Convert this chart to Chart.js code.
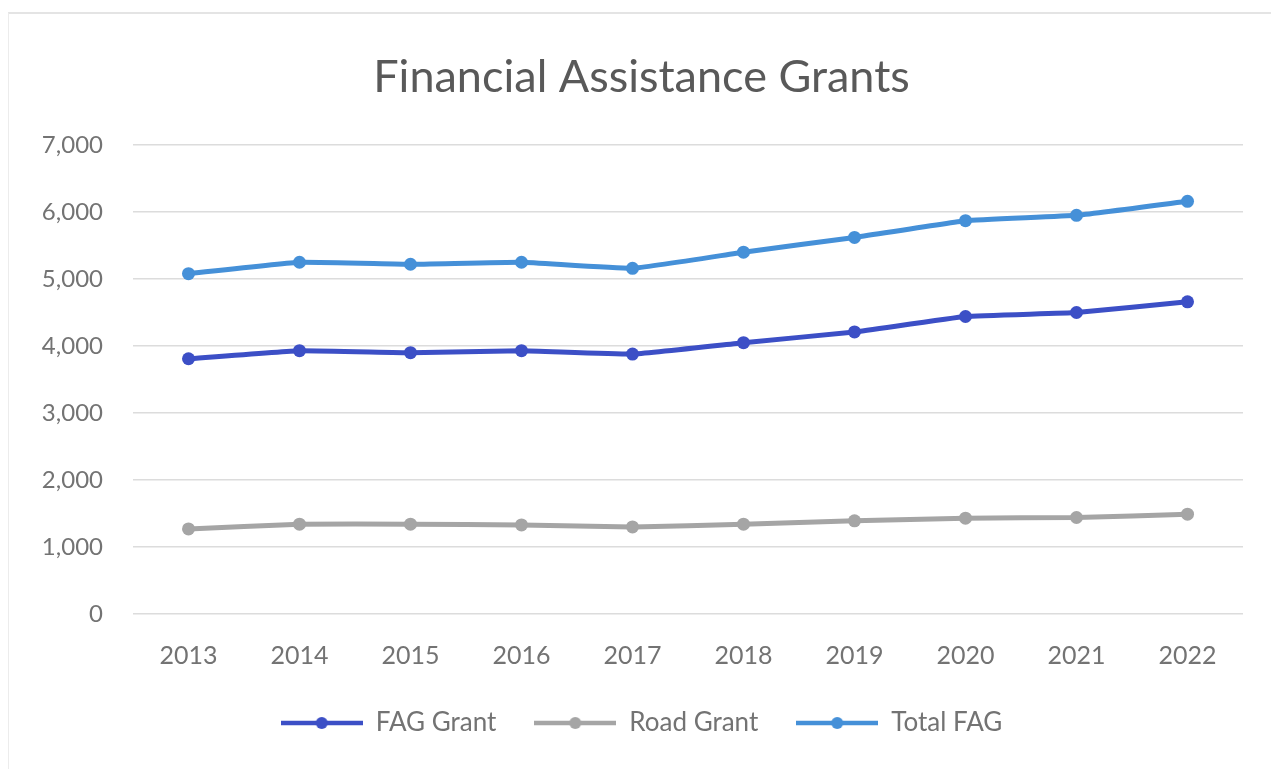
<!DOCTYPE html>
<html>
<head>
<meta charset="utf-8">
<script src="https://cdn.jsdelivr.net/npm/chart.js@4.4.1/dist/chart.umd.min.js"></script>
<style>
  body { margin: 0; background: #fff; }
  #frame { position: absolute; left: 8px; top: 12px; width: 1262px; height: 756px; border-top: 2px solid #e4e4e4; border-left: 1px solid #ececec; }
  #wrap { position: absolute; left: 0; top: 0; width: 1271px; height: 769px; }
</style>
</head>
<body>
<div id="frame"></div>
<div id="wrap"><canvas id="grantChart" width="1271" height="769"></canvas></div>
<script>
// values ($ thousands)
const years = ["2013", "2014", "2015", "2016", "2017", "2018", "2019", "2020", "2021", "2022"];
const fagGrant = [3810, 3930, 3900, 3930, 3880, 4050, 4210, 4440, 4500, 4660];
const roadGrant = [1270, 1340, 1340, 1330, 1300, 1340, 1390, 1430, 1440, 1490];
const totalFag = [5080, 5250, 5220, 5250, 5160, 5400, 5620, 5870, 5950, 6160];
const yTicks = [0, 1000, 2000, 3000, 4000, 5000, 6000, 7000];

const fagColor = "#3c4fc6";
const roadColor = "#a5a5a5";
const totalColor = "#4590d8";
const textColor = "#737373";

// little line + marker picture for the legend
function legendMark(color) {
  const c = document.createElement("canvas");
  c.width = 82; c.height = 16;
  const g = c.getContext("2d");
  g.strokeStyle = color;
  g.lineWidth = 4.5;
  g.beginPath(); g.moveTo(0, 8); g.lineTo(82, 8); g.stroke();
  g.fillStyle = color;
  g.beginPath(); g.arc(41, 8, 6, 0, Math.PI * 2); g.fill();
  return c;
}

function series(label, data, color) {
  return {
    label: label,
    data: data,
    borderColor: color,
    backgroundColor: color,
    borderWidth: 5,
    pointRadius: 6.5,
    pointBorderWidth: 0,
    pointStyle: "circle",
    tension: 0.1,
    legendMark: legendMark(color)
  };
}

document.addEventListener("DOMContentLoaded", function () {
  const ctx = document.getElementById("grantChart").getContext("2d");
  new Chart(ctx, {
    type: "line",
    data: {
      labels: years,
      datasets: [
        series("FAG Grant", fagGrant, fagColor),
        series("Road Grant", roadGrant, roadColor),
        series("Total FAG", totalFag, totalColor)
      ]
    },
    options: {
      responsive: false,
      animation: false,
      layout: { padding: { left: 40, right: 28, top: 0, bottom: 23 } },
      plugins: {
        title: {
          display: true,
          text: "Financial Assistance Grants",
          color: "#595959",
          font: { family: "Lato", size: 45, weight: "normal" },
          padding: { top: 50, bottom: 41 }
        },
        legend: {
          position: "bottom",
          labels: {
            color: textColor,
            font: { family: "Lato", size: 26 },
            usePointStyle: true,
            pointStyleWidth: 82,
            padding: 38,
            generateLabels: function (chart) {
              return chart.data.datasets.map(function (ds, i) {
                return {
                  text: ds.label,
                  pointStyle: ds.legendMark,
                  fillStyle: ds.borderColor,
                  strokeStyle: ds.borderColor,
                  lineWidth: 0,
                  fontColor: textColor,
                  datasetIndex: i
                };
              });
            }
          }
        },
        tooltip: { enabled: false }
      },
      scales: {
        x: {
          offset: true,
          grid: { display: false },
          border: { display: false },
          ticks: { color: textColor, font: { family: "Lato", size: 25 }, padding: 19 },
          afterFit: function (s) { s.height = 58; }
        },
        y: {
          min: 0,
          max: 7000,
          afterBuildTicks: function (s) { s.ticks = yTicks.map(function (v) { return { value: v }; }); },
          grid: { color: "#dcdcdc", lineWidth: 1.5, drawTicks: false },
          border: { display: false },
          ticks: {
            color: textColor,
            font: { family: "Lato", size: 24 },
            padding: 30,
            callback: function (v) { return v.toLocaleString("en-US"); }
          },
          afterFit: function (s) { s.width = 93; }
        }
      }
    }
  });
});
</script>
</body>
</html>
